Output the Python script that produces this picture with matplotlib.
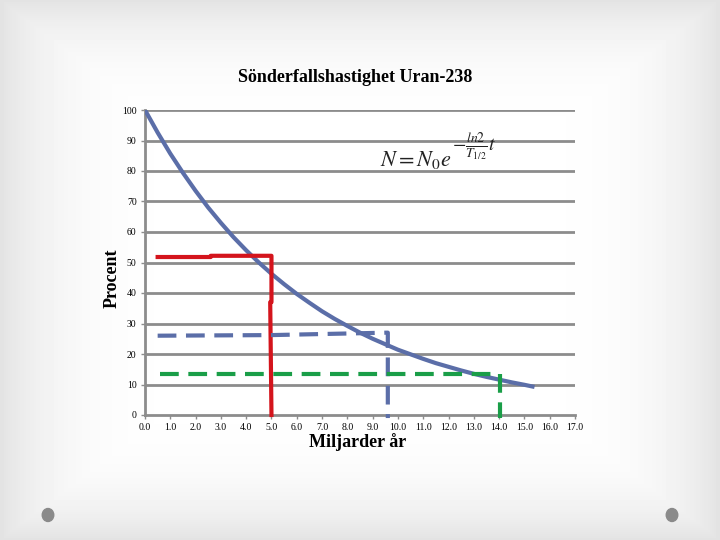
import matplotlib
matplotlib.use("Agg")
import matplotlib.pyplot as plt
import numpy as np
from matplotlib.patches import Ellipse

plt.rcParams["mathtext.fontset"] = "stix"

# values
t_years = [0, 0.5, 1, 1.5, 2, 2.5, 3, 3.5, 4, 4.5, 5, 5.5, 6, 6.5, 7, 7.5, 8, 8.5,
           9, 9.5, 10, 10.5, 11, 11.5, 12, 12.5, 13, 13.5, 14, 14.5, 15, 15.4]
percent = [100, 92.6, 85.7, 79.4, 73.5, 68, 63, 58.3, 54, 50, 46.3, 42.9, 39.7, 36.8,
           34, 31.5, 29.2, 27, 25, 23.2, 21.4, 19.9, 18.4, 17, 15.8, 14.6, 13.5, 12.5,
           11.6, 10.7, 9.9, 9.2]

red_x = [0.5, 2.6, 2.6, 5.0, 5.0, 4.95, 5.0]
red_y = [51.8, 51.8, 52.2, 52.2, 37, 37, 0]
blue_x = [0.5, 5.0, 9.6, 9.6]
blue_y = [26.0, 26.2, 27.0, -1]
green_x = [0.6, 14.05, 14.05]
green_y = [13.6, 13.6, -1]

xticks = np.arange(0, 18, 1)
yticks = np.arange(0, 110, 10)

serif = ["Liberation Serif", "DejaVu Serif"]

fig = plt.figure(figsize=(7.2, 5.4), dpi=100)

# slide background: grey edges fading to white
bg = fig.add_axes([0, 0, 1, 1])
yy, xx = np.mgrid[-1:1:270j, -1:1:360j]
r = np.clip(np.maximum(np.abs(xx) ** 6, np.abs(yy) ** 6), 0, 1)
bg.imshow(1 - 0.11 * r, cmap="gray", vmin=0, vmax=1, aspect="auto", extent=[0, 1, 0, 1])
bg.add_patch(Ellipse((48 / 720, 1 - 515 / 540), 0.016, 0.024, color="#8a8a8a"))
bg.add_patch(Ellipse((672 / 720, 1 - 515 / 540), 0.016, 0.024, color="#8a8a8a"))
bg.set_xlim(0, 1)
bg.set_ylim(0, 1)
bg.axis("off")

ax = fig.add_axes([145 / 720, 1 - 415 / 540, 430 / 720, 305 / 540])
ax.set_facecolor("none")
ax.set_xlim(0, 17)
ax.set_ylim(0, 100)

for v in yticks[1:]:
    ax.axhline(v, color="#8c8c8c", lw=2, zorder=1)

ax.plot(t_years, percent, color="#5b6ea8", lw=3, zorder=3, solid_capstyle="butt")
ax.plot(red_x, red_y, color="#d4141c", lw=3, zorder=4, clip_on=False)
ax.plot(blue_x, blue_y, color="#5b6ea8", lw=3, ls=(0, (4.5, 2.3)), zorder=4, clip_on=False)
ax.plot(green_x, green_y, color="#1a9e48", lw=3, ls=(0, (4.5, 2.3)), zorder=4, clip_on=False)

for s in ["top", "right"]:
    ax.spines[s].set_visible(False)
for s in ["left", "bottom"]:
    ax.spines[s].set_color("#8c8c8c")
    ax.spines[s].set_linewidth(2)

ax.set_xticks(xticks)
ax.set_xticklabels([f"{v:.1f}" for v in xticks], fontsize=7, family=serif)
ax.set_yticks(yticks)
ax.set_yticklabels([str(v) for v in yticks], fontsize=7, family=serif)
ax.tick_params(axis="x", length=3, width=1, color="#8c8c8c", pad=3)
ax.tick_params(axis="y", length=3, width=1, color="#8c8c8c", pad=3)

# formula: base and raised exponent
fig.text(380 / 720, 1 - 160 / 540, r"$N = N_0 e$", fontsize=16, ha="left", va="center",
         color="#222222")
fig.text(452 / 720, 1 - 146 / 540, r"$-\frac{ln2}{T_{1/2}}t$", fontsize=14, ha="left",
         va="center", color="#222222")

fig.text(355 / 720, 1 - 77 / 540, "Sönderfallshastighet Uran-238", fontsize=13,
         fontweight="bold", family=serif, ha="center", va="center")
fig.text(112 / 720, 1 - 278 / 540, "Procent", fontsize=13, fontweight="bold", family=serif,
         rotation=90, ha="center", va="center")
fig.text(358 / 720, 1 - 442 / 540, "Miljarder år", fontsize=13, fontweight="bold", family=serif,
         ha="center", va="center")

fig.savefig("out.png", dpi=100)
